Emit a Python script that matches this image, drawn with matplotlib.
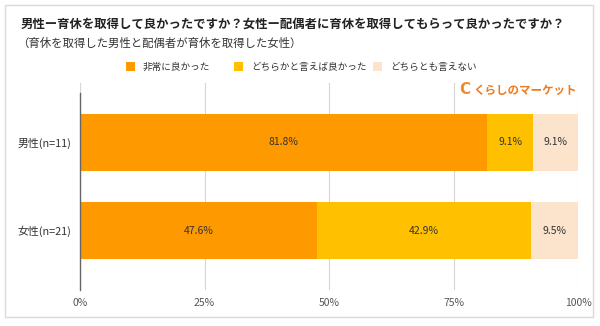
import matplotlib
matplotlib.use("Agg")
import matplotlib.pyplot as plt
from matplotlib.patches import Rectangle
import numpy as np

plt.rcParams['font.family'] = ['Noto Sans CJK JP', 'DejaVu Sans']

title = "男性ー育休を取得して良かったですか？女性ー配偶者に育休を取得してもらって良かったですか？"
subtitle = "（育休を取得した男性と配偶者が育休を取得した女性）"
categories = ["男性(n=11)", "女性(n=21)"]
series_names = ["非常に良かった", "どちらかと言えば良かった", "どちらとも言えない"]
very_good = [81.8, 47.6]
somewhat_good = [9.1, 42.9]
neither = [9.1, 9.5]
xticks = [0, 25, 50, 75, 100]
xtick_labels = ["0%", "25%", "50%", "75%", "100%"]
logo_text = "くらしのマーケット"

colors = ["#FF9900", "#FFC000", "#FCE4CC"]
W, H = 600, 326
fig = plt.figure(figsize=(6, 3.26), dpi=100)
fig.patch.set_facecolor("white")

# outer border
fig.add_artist(Rectangle((5 / W, 1 - 317 / H), 588 / W, 312 / H, transform=fig.transFigure,
                         fill=False, edgecolor="#DADADA", linewidth=1.0))

ax = fig.add_axes([80 / W, 1 - 290 / H, 498 / W, (290 - 83) / H])
y = np.arange(len(categories))
series = [very_good, somewhat_good, neither]
left = np.zeros(len(categories))
bar_h = 0.648
for vals, col, name in zip(series, colors, series_names):
    vals = np.array(vals)
    ax.barh(y, vals, left=left, height=bar_h, color=col, label=name, zorder=2)
    for yi, (l, v) in enumerate(zip(left, vals)):
        ax.text(l + v / 2, yi, f"{v:.1f}%", ha="center", va="center",
                fontsize=7.5, color="#333333", zorder=3)
    left = left + vals

ax.set_xlim(0, 100)
ax.set_ylim(1.676, -0.676)
ax.set_xticks(xticks)
ax.set_xticklabels(xtick_labels, fontsize=7.5, color="#555555")
ax.set_yticks(y)
ax.set_yticklabels(categories, fontsize=7.8, color="#333333")
ax.tick_params(axis="both", length=0, pad=6)
ax.tick_params(axis="y", pad=6)
ax.grid(axis="x", color="#D6D6D6", linewidth=0.8, zorder=0)
for s in ["top", "right", "bottom"]:
    ax.spines[s].set_visible(False)
ax.spines["left"].set_color("#666666")
ax.spines["left"].set_linewidth(1.0)
ax.spines["left"].set_bounds(1.676, -0.56)
ax.spines["left"].set_zorder(4)

# titles
fig.text(21 / W, 1 - 24 / H, title, fontsize=8.9, fontweight="bold", color="#222222",
         ha="left", va="center")
fig.text(17 / W, 1 - 43 / H, subtitle, fontsize=8.2, color="#333333", ha="left", va="center")

# legend
leg_x = [126, 234, 373]
for lx, col, name in zip(leg_x, colors, series_names):
    fig.add_artist(Rectangle((lx / W, 1 - 71.5 / H), 9 / W, 9 / H, transform=fig.transFigure,
                             facecolor=col, edgecolor="none"))
    fig.text((lx + 17) / W, 1 - 67 / H, name, fontsize=6.9, color="#333333",
             ha="left", va="center")

# logo
fig.text(459 / W, 1 - 90 / H, "C", fontsize=11, color="#F08A2C", ha="left", va="center",
         family=["DejaVu Sans"], fontweight="bold")
fig.text(473 / W, 1 - 90 / H, logo_text, fontsize=8.3, fontweight="bold", color="#F07A1E",
         ha="left", va="center")

fig.savefig("out.png", dpi=100, facecolor="white")
